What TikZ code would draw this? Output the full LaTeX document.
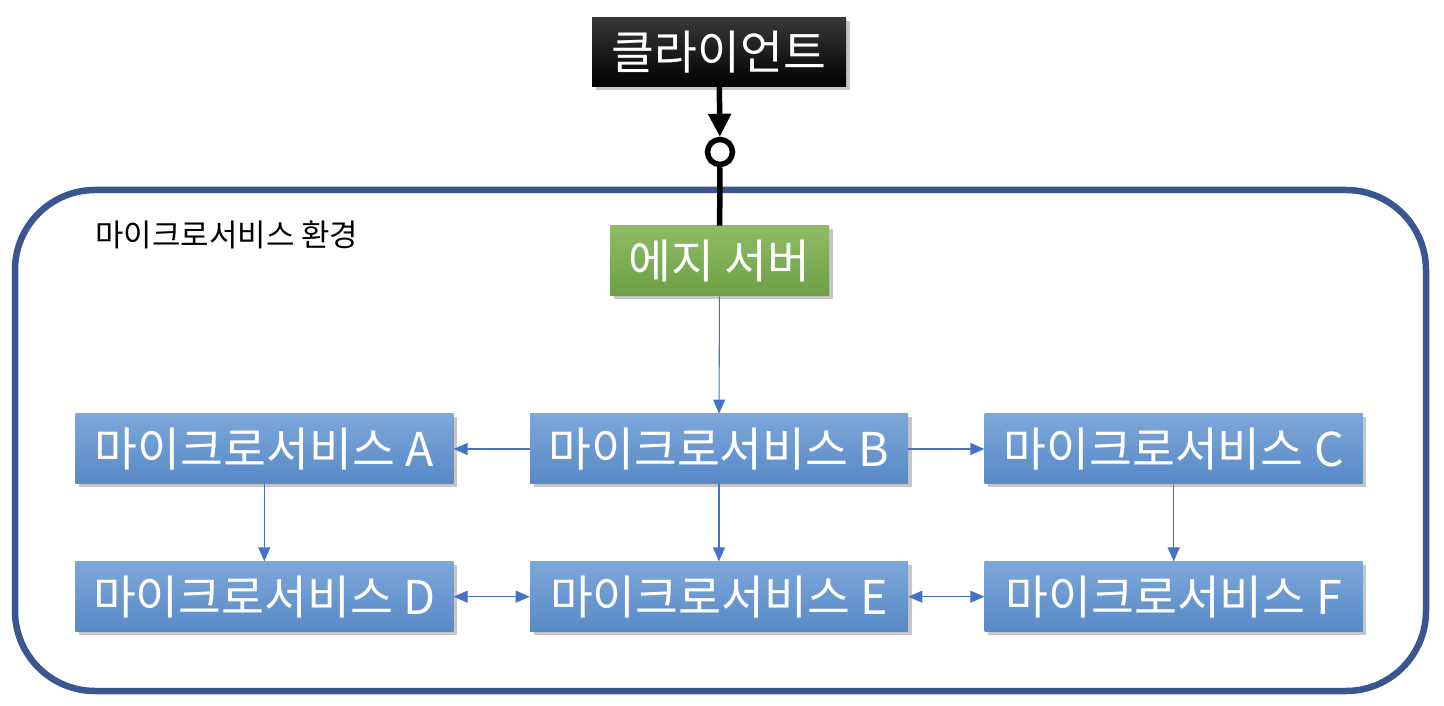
\documentclass[tikz,border=0pt]{standalone}
\usepackage{fontspec}
\setmainfont{Noto Sans CJK KR}
\usetikzlibrary{arrows.meta}
\usetikzlibrary{shadows}
\usetikzlibrary{positioning}

\definecolor{frameblue}{HTML}{3A5690}
\definecolor{linkblue}{HTML}{4472C4}
\definecolor{svctop}{RGB}{124,167,217}
\definecolor{svcbottom}{RGB}{88,137,198}
\definecolor{edgetop}{RGB}{143,188,103}
\definecolor{edgebottom}{RGB}{109,159,68}

\tikzset{
    box/.style={rectangle, inner sep=0pt, text=white, font=\fontsize{26.5}{30}\selectfont,
        drop shadow={opacity=0.45, shadow xshift=0.07cm, shadow yshift=-0.07cm}},
    svc/.style={box, minimum width=7.56cm, minimum height=1.4cm, top color=svctop, bottom color=svcbottom},
    link/.style={draw=linkblue, line width=0.6pt, -{Triangle[length=0.28cm, width=0.24cm]}},
    both/.style={link, {Triangle[length=0.28cm, width=0.24cm]}-{Triangle[length=0.28cm, width=0.24cm]}},
}

\begin{document}
\begin{tikzpicture}
    \useasboundingbox (0,0) rectangle (28.88,-14.12);

    % environment frame
    \draw [frameblue, line width=0.13cm, rounded corners=1.6cm] (0.3,-3.8) rectangle (28.52,-13.82);
    \node [anchor=west, inner sep=0pt, font=\fontsize{17.6}{20}\selectfont] (env) at (1.9,-4.7) {마이크로서비스 환경};

    \node [box, minimum width=5.08cm, minimum height=1.38cm, top color=black!78, bottom color=black] (client) at (14.38,-1.04) {클라이언트};
    \node [draw, line width=0.11cm, circle, minimum size=0.5cm, inner sep=0pt, fill=white] (joint) at (14.4,-3.04) {};
    \node [box, minimum width=4.38cm, minimum height=1.4cm, top color=edgetop, bottom color=edgebottom] (edge) at (14.39,-5.22) {에지 서버};

    \node [svc] (msB) at (14.38,-8.98) {마이크로서비스 B};
    \node [svc, left = 1.52cm of msB] (msA) {마이크로서비스 A};
    \node [svc, right = 1.52cm of msB] (msC) {마이크로서비스 C};
    \node [svc, below = 1.54cm of msA] (msD) {마이크로서비스 D};
    \node [svc, below = 1.54cm of msB] (msE) {마이크로서비스 E};
    \node [svc, below = 1.54cm of msC] (msF) {마이크로서비스 F};

    \draw [line width=0.11cm, -{Triangle[length=0.46cm, width=0.44cm]}] (client) -- (joint);
    \draw [line width=0.11cm] (joint) -- (edge);

    \draw [link] (edge) -- (msB);
    \draw [link] (msB) -- (msA);
    \draw [link] (msB) -- (msC);
    \draw [link] (msA) -- (msD);
    \draw [link] (msB) -- (msE);
    \draw [link] (msC) -- (msF);
    \draw [both] (msD) -- (msE);
    \draw [both] (msE) -- (msF);

\end{tikzpicture}
\end{document}
